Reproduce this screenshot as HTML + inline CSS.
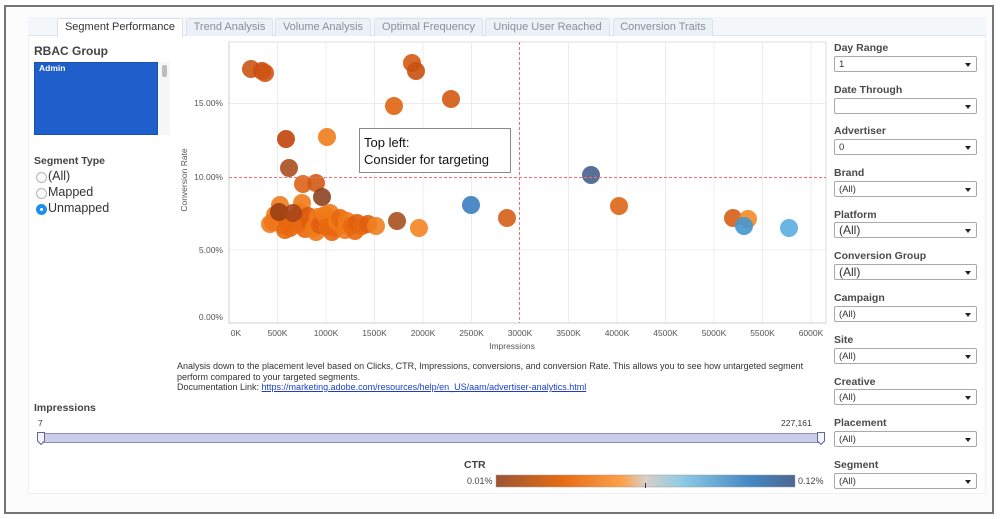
<!DOCTYPE html>
<html><head><meta charset="utf-8">
<style>
*{margin:0;padding:0;box-sizing:border-box}
body{width:1001px;height:519px;background:#fff;position:relative;overflow:hidden;font-family:"Liberation Sans",sans-serif;color:#333}
.a{position:absolute;white-space:nowrap}
.frame{position:absolute;left:4px;top:5px;width:990px;height:509px;border:2px solid #747474;background:#fcfcfc}
.panel{position:absolute;left:28px;top:17px;width:958px;height:477px;background:#fff;border:1px solid #f0f0f0}
.tabbar{position:absolute;left:28px;top:17px;width:958px;height:19px;background:#f4f7fa;border-bottom:1px solid #dbe5ef}
.tab{position:absolute;top:18px;height:18px;background:#ecf1f7;border:1px solid #d9e3ee;border-bottom:none;border-radius:3px 3px 0 0;font-size:11px;color:#8a8f96;text-align:center;line-height:17px}
.tab.on{background:#fff;color:#333;height:19px}
.lbl{position:absolute;left:834px;font-size:10.5px;font-weight:bold;color:#4a4a4a}
.sel{position:absolute;left:834px;width:143px;height:16px;border:1px solid #a9a9a9;border-radius:2px;background:#fff;font-size:9.5px;color:#333;padding-left:4px;display:flex;align-items:center}
.sel.big{font-size:12px}
.sel:after{content:"";position:absolute;right:5px;top:6px;border-left:3.5px solid transparent;border-right:3.5px solid transparent;border-top:4px solid #222}
.radio{position:absolute;left:36px;width:11px;height:11px;border:1px solid #b5b5b5;border-radius:50%;background:#fafafa}
.radio.on{background:#1e8ef0;border-color:#1e8ef0}
.radio.on:after{content:"";position:absolute;left:3px;top:3px;width:3px;height:3px;border-radius:50%;background:#fff}
.rt{position:absolute;left:48px;font-size:12.5px;color:#333}
</style></head><body>
<div class="frame"></div>
<div class="panel"></div>
<div class="tabbar"></div>
<div class="tab on" style="left:57px;width:126px">Segment Performance</div>
<div class="tab" style="left:186px;width:87px">Trend Analysis</div>
<div class="tab" style="left:275px;width:96px">Volume Analysis</div>
<div class="tab" style="left:374px;width:109px">Optimal Frequency</div>
<div class="tab" style="left:485px;width:125px">Unique User Reached</div>
<div class="tab" style="left:613px;width:100px">Conversion Traits</div>

<!-- left panel -->
<div class="a" style="left:34px;top:44px;font-size:12px;font-weight:bold;color:#444">RBAC Group</div>
<div class="a" style="left:34px;top:62px;width:124px;height:73px;background:#1f5fcc;border:1px solid #1a50b0"></div>
<div class="a" style="left:39px;top:63px;font-size:8.5px;font-weight:bold;color:#fff">Admin</div>
<div class="a" style="left:159px;top:62px;width:11px;height:73px;background:#f6f6f6"></div>
<div class="a" style="left:162px;top:65px;width:5px;height:12px;background:#bdbdbd;border-radius:2px"></div>
<div class="a" style="left:34px;top:155px;font-size:10.5px;font-weight:bold;color:#444">Segment Type</div>
<div class="radio" style="top:172px"></div><div class="rt" style="top:169px">(All)</div>
<div class="radio" style="top:188px"></div><div class="rt" style="top:185px">Mapped</div>
<div class="radio on" style="top:204px"></div><div class="rt" style="top:201px">Unmapped</div>

<!-- chart -->
<svg class="a" style="left:0;top:0" width="1001" height="519" viewBox="0 0 1001 519">
<rect x="229" y="42" width="597" height="281" fill="#fff" stroke="#dedede" stroke-width="1"/>
<g stroke="#ececec" stroke-width="1">
<line x1="277.5" y1="42" x2="277.5" y2="323"/><line x1="326" y1="42" x2="326" y2="323"/>
<line x1="374.5" y1="42" x2="374.5" y2="323"/><line x1="423" y1="42" x2="423" y2="323"/>
<line x1="471.5" y1="42" x2="471.5" y2="323"/>
<line x1="568.5" y1="42" x2="568.5" y2="323"/><line x1="617" y1="42" x2="617" y2="323"/>
<line x1="665.5" y1="42" x2="665.5" y2="323"/><line x1="714" y1="42" x2="714" y2="323"/>
<line x1="762.5" y1="42" x2="762.5" y2="323"/><line x1="811" y1="42" x2="811" y2="323"/>
<line x1="229" y1="103.5" x2="826" y2="103.5"/><line x1="229" y1="250" x2="826" y2="250"/>
</g>
<line x1="229" y1="323" x2="826" y2="323" stroke="#cfcfcf"/>
<line x1="229" y1="42" x2="229" y2="323" stroke="#cfcfcf"/>
<g font-size="8.5" fill="#555" text-anchor="end">
<text x="223" y="106">15.00%</text><text x="223" y="180">10.00%</text>
<text x="223" y="253">5.00%</text><text x="223" y="320">0.00%</text>
</g>
<g font-size="8.5" fill="#555" text-anchor="middle">
<text x="236" y="336">0K</text><text x="277.5" y="336">500K</text><text x="326" y="336">1000K</text>
<text x="374.5" y="336">1500K</text><text x="423" y="336">2000K</text><text x="471.5" y="336">2500K</text>
<text x="520" y="336">3000K</text><text x="568.5" y="336">3500K</text><text x="617" y="336">4000K</text>
<text x="665.5" y="336">4500K</text><text x="714" y="336">5000K</text><text x="762.5" y="336">5500K</text>
<text x="811" y="336">6000K</text>
</g>
<text x="512" y="349" font-size="8.5" fill="#555" text-anchor="middle">Impressions</text>
<text transform="translate(187,180) rotate(-90)" font-size="8.5" fill="#555" text-anchor="middle">Conversion Rate</text>

<g fill-opacity="0.9">
<circle cx="251" cy="69" r="9" fill="#cc5516"/>
<circle cx="262" cy="71" r="9" fill="#c84e12"/>
<circle cx="265" cy="73" r="9" fill="#cf5414"/>
<circle cx="412" cy="63" r="9" fill="#d45a14"/>
<circle cx="416" cy="71" r="9" fill="#c9510f"/>
<circle cx="394" cy="106" r="9" fill="#e0650f"/>
<circle cx="451" cy="99" r="9" fill="#d35a12"/>
<circle cx="286" cy="139" r="9" fill="#c1440a"/>
<circle cx="327" cy="137" r="9" fill="#ee7c1c"/>
<circle cx="289" cy="168" r="9" fill="#aa4e20"/>
<circle cx="303" cy="184" r="9" fill="#dd6414"/>
<circle cx="316" cy="183" r="9" fill="#d25a16"/>
<circle cx="322" cy="197" r="9" fill="#8e4420"/>
<circle cx="280" cy="205" r="9" fill="#f07c1c"/>
<circle cx="302" cy="203" r="9" fill="#f07c1c"/>
<circle cx="275" cy="215" r="9" fill="#f07a18"/>
<circle cx="270" cy="224" r="9" fill="#f07c1c"/>
<circle cx="273" cy="222" r="9" fill="#ee7618"/>
<circle cx="283" cy="225" r="9" fill="#f07a18"/>
<circle cx="285" cy="230" r="9" fill="#e8680f"/>
<circle cx="286" cy="219" r="9" fill="#e8680f"/>
<circle cx="290" cy="228" r="9" fill="#e8680f"/>
<circle cx="296" cy="218" r="9" fill="#e8680f"/>
<circle cx="298" cy="224" r="9" fill="#e8680f"/>
<circle cx="300" cy="212" r="9" fill="#f07c1c"/>
<circle cx="305" cy="229" r="9" fill="#e8680f"/>
<circle cx="308" cy="216" r="9" fill="#d9560c"/>
<circle cx="310" cy="222" r="9" fill="#e05e0e"/>
<circle cx="314" cy="228" r="9" fill="#f07a18"/>
<circle cx="316" cy="232" r="9" fill="#f07a18"/>
<circle cx="318" cy="217" r="9" fill="#f07a18"/>
<circle cx="320" cy="225" r="9" fill="#e05e0e"/>
<circle cx="323" cy="222" r="9" fill="#e05e0e"/>
<circle cx="325" cy="215" r="9" fill="#f07a18"/>
<circle cx="330" cy="213" r="9" fill="#f07a18"/>
<circle cx="327" cy="227" r="9" fill="#e8680f"/>
<circle cx="332" cy="232" r="9" fill="#e8680f"/>
<circle cx="335" cy="228" r="9" fill="#e8680f"/>
<circle cx="337" cy="222" r="9" fill="#f07a18"/>
<circle cx="340" cy="218" r="9" fill="#e8680f"/>
<circle cx="344" cy="225" r="9" fill="#e8680f"/>
<circle cx="345" cy="230" r="9" fill="#f07a18"/>
<circle cx="347" cy="221" r="9" fill="#f07a18"/>
<circle cx="352" cy="226" r="9" fill="#e8680f"/>
<circle cx="355" cy="231" r="9" fill="#e8680f"/>
<circle cx="357" cy="223" r="9" fill="#e05e0e"/>
<circle cx="362" cy="226" r="9" fill="#e8680f"/>
<circle cx="368" cy="224" r="9" fill="#e05e0e"/>
<circle cx="279" cy="212" r="9" fill="#9a3f14"/>
<circle cx="293" cy="213" r="9" fill="#a8441a"/>
<circle cx="376" cy="226" r="9" fill="#f08020"/>
<circle cx="397" cy="221" r="9" fill="#a8501e"/>
<circle cx="419" cy="228" r="9" fill="#f28422"/>
<circle cx="471" cy="205" r="9" fill="#3a7dc0"/>
<circle cx="507" cy="218" r="9" fill="#d65e18"/>
<circle cx="591" cy="175" r="9" fill="#465f8c"/>
<circle cx="619" cy="206" r="9" fill="#df6616"/>
<circle cx="733" cy="218" r="9" fill="#d65e18"/>
<circle cx="748" cy="219" r="9" fill="#f58a26"/>
<circle cx="744" cy="226" r="9" fill="#4596cf"/>
<circle cx="789" cy="228" r="9" fill="#5aaddf"/>
</g>
<line x1="229" y1="177.5" x2="826" y2="177.5" stroke="#f07070" stroke-width="1" stroke-dasharray="3,2"/>
<line x1="519.5" y1="42" x2="519.5" y2="323" stroke="#f07070" stroke-width="1" stroke-dasharray="3,2"/>
<rect x="359.5" y="128.5" width="151" height="44" fill="#fff" stroke="#8a8a8a"/>
<text x="364" y="147" font-size="13" fill="#111">Top left:</text>
<text x="364" y="164" font-size="13" fill="#111">Consider for targeting</text>

<!-- slider -->
<rect x="40.5" y="433.5" width="781" height="9" fill="#cbcbea" stroke="#8c8cb4"/>
<path d="M37.5 432.5 H44.5 V441 L41 444.5 L37.5 441 Z" fill="#f4f4fa" stroke="#5a6a90"/>
<path d="M817.5 432.5 H824.5 V441 L821 444.5 L817.5 441 Z" fill="#f4f4fa" stroke="#5a6a90"/>
<defs><linearGradient id="g" x1="0" x2="1" y1="0" y2="0">
<stop offset="0" stop-color="#9c5535"/><stop offset="0.22" stop-color="#e56c14"/>
<stop offset="0.42" stop-color="#fca04a"/><stop offset="0.5" stop-color="#d9cfc6"/>
<stop offset="0.62" stop-color="#8fcbe6"/><stop offset="0.85" stop-color="#4488c4"/>
<stop offset="1" stop-color="#4d6690"/></linearGradient></defs>
<rect x="496" y="475" width="299" height="12" fill="url(#g)" stroke="#999" stroke-width="0.5"/>
<line x1="645.5" y1="483" x2="645.5" y2="488" stroke="#333"/>
</svg>

<div class="a" style="left:177px;top:361px;font-size:9px;line-height:10.5px;color:#333">Analysis down to the placement level based on Clicks, CTR, Impressions, conversions, and conversion Rate. This allows you to see how untargeted segment<br>perform compared to your targeted segments.<br>Documentation Link: <span style="color:#1a3fc9;text-decoration:underline">https://marketing.adobe.com/resources/help/en_US/aam/advertiser-analytics.html</span></div>
<div class="a" style="left:34px;top:402px;font-size:10.5px;font-weight:bold;color:#444">Impressions</div>
<div class="a" style="left:38px;top:418px;font-size:8.5px;color:#333">7</div>
<div class="a" style="left:781px;top:418px;font-size:8.5px;color:#333">227,161</div>
<div class="a" style="left:464px;top:459px;font-size:10.5px;font-weight:bold;color:#444">CTR</div>
<div class="a" style="left:467px;top:476px;font-size:9px;color:#444">0.01%</div>
<div class="a" style="left:798px;top:476px;font-size:9px;color:#444">0.12%</div>

<!-- right panel -->
<div class="lbl" style="top:42px">Day Range</div><div class="sel" style="top:56px">1</div>
<div class="lbl" style="top:84px">Date Through</div><div class="sel" style="top:98px"></div>
<div class="lbl" style="top:125px">Advertiser</div><div class="sel" style="top:139px">0</div>
<div class="lbl" style="top:167px">Brand</div><div class="sel" style="top:181px">(All)</div>
<div class="lbl" style="top:209px">Platform</div><div class="sel big" style="top:222px">(All)</div>
<div class="lbl" style="top:250px">Conversion Group</div><div class="sel big" style="top:264px">(All)</div>
<div class="lbl" style="top:292px">Campaign</div><div class="sel" style="top:306px">(All)</div>
<div class="lbl" style="top:334px">Site</div><div class="sel" style="top:348px">(All)</div>
<div class="lbl" style="top:376px">Creative</div><div class="sel" style="top:389px">(All)</div>
<div class="lbl" style="top:417px">Placement</div><div class="sel" style="top:431px">(All)</div>
<div class="lbl" style="top:459px">Segment</div><div class="sel" style="top:473px">(All)</div>
</body></html>
